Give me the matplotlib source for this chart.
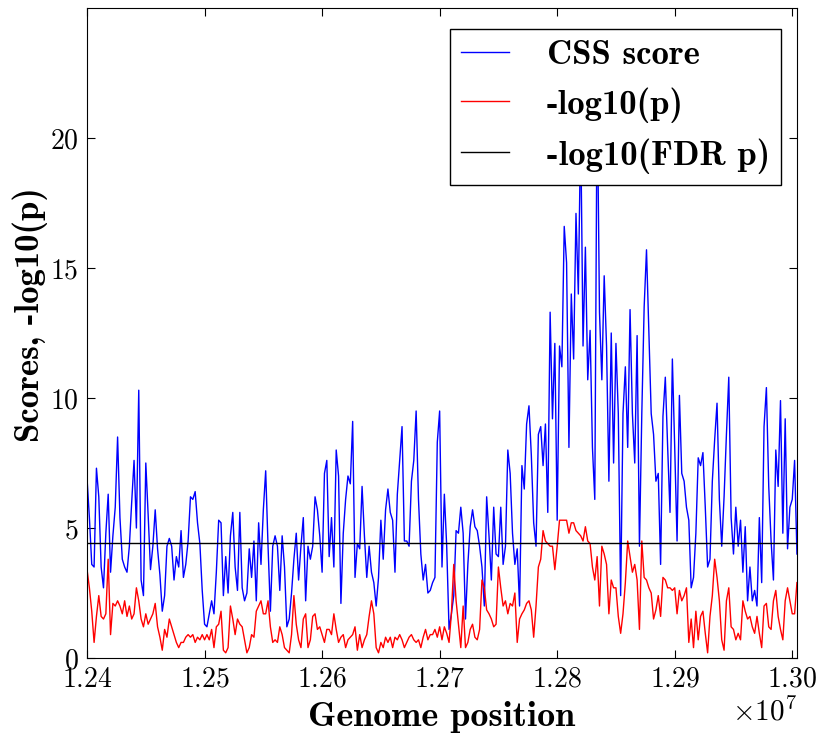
import numpy as np
import matplotlib
matplotlib.use("Agg")
import matplotlib.pyplot as plt

plt.rcParams['font.family'] = 'cmr10'
plt.rcParams['mathtext.fontset'] = 'cm'
plt.rcParams['axes.unicode_minus'] = False
plt.rcParams['axes.formatter.use_mathtext'] = True

# Window start positions (bp), 2 kb steps along the region
start, stop, step = 12400000, 13004000, 2000
positions = np.arange(start, stop + 1, step)

# CSS score per window
css_score = [
    6.9, 5.4, 3.6, 3.5, 7.3, 6.2, 3.5, 2.7, 4.8, 6.3,
    3.3, 4.7, 5.8, 8.5, 5.4, 3.8, 3.5, 3.3, 4.3, 6.0,
    7.6, 5.0, 10.3, 3.0, 2.4, 7.5, 5.5, 3.4, 4.3, 5.7,
    4.2, 3.2, 1.8, 2.4, 4.3, 4.6, 4.3, 3.0, 3.9, 3.5,
    4.9, 3.1, 3.6, 4.5, 6.2, 6.1, 6.4, 5.2, 4.4, 2.6,
    1.3,
    1.2, 1.7, 2.2, 1.7, 3.3, 5.3, 5.2, 2.4, 3.9, 2.5,
    4.7, 5.6, 3.5, 2.6, 5.6, 2.7, 2.2, 2.5, 4.2, 3.1,
    4.5, 2.2, 5.2, 3.6, 5.7, 7.2, 4.3, 1.8, 4.3, 4.7,
    4.3, 2.6, 4.7, 3.5, 1.2, 1.5, 2.5, 3.8, 4.8, 3.0,
    4.3, 5.4, 2.2, 4.3, 3.8, 4.3, 6.2, 5.7, 4.7, 3.3,
    7.1,
    7.6, 3.9, 5.4, 3.5, 8.0, 7.0, 2.1, 4.8, 6.1, 7.0,
    6.7, 9.1, 3.1, 4.4, 4.2, 6.6, 4.7, 3.1, 4.3, 3.3,
    2.9, 2.0, 3.1, 5.3, 3.8, 5.7, 6.5, 5.6, 5.3, 3.3,
    6.3, 7.6, 8.9, 4.5, 4.5, 4.3, 6.8, 7.6, 9.5, 6.1,
    4.0, 3.0, 3.6, 2.5, 2.6, 2.9, 3.1, 8.3, 9.5, 3.5,
    6.3,
    4.3, 1.1, 1.7, 2.4, 4.9, 4.8, 5.8, 4.8, 1.5, 3.6,
    5.05, 5.7, 5.05, 4.9, 4.3, 3.5, 2.0, 6.2, 4.7, 3.0,
    5.8, 4.0, 3.9, 5.8, 3.6, 4.3, 8.0, 7.1, 4.8, 3.6,
    4.2, 2.0, 7.4, 6.5, 9.0, 9.7, 7.8, 5.2, 4.3, 8.6,
    8.9, 7.4, 9.0, 5.6, 13.3, 9.2, 12.1, 5.3, 12.0, 11.2,
    16.6,
    15.2, 8.1, 14.0, 11.5, 17.1, 14.0, 20.5, 12.0, 15.8, 10.7,
    12.6, 8.1, 6.1, 22.0, 13.3, 10.7, 14.7, 12.0, 6.8, 12.5,
    7.5, 12.1, 9.4, 2.4, 9.4, 11.2, 8.1, 13.4, 9.4, 7.5,
    12.4, 4.3, 9.4, 13.5, 15.7, 12.6, 9.4, 8.6, 6.8, 7.1,
    3.6, 9.3, 10.8, 8.1, 5.6, 11.5, 8.1, 4.5, 10.1, 7.1,
    6.8,
    5.8, 5.3, 2.7, 3.1, 4.8, 7.7, 7.4, 7.9, 5.8, 3.5,
    3.8, 6.8, 8.4, 9.8, 6.1, 4.3, 6.2, 8.6, 10.8, 5.4,
    4.0, 5.8, 4.3, 5.3, 3.3, 5.05, 2.2, 3.5, 2.2, 2.6,
    2.0, 5.4, 2.9, 8.9, 10.4, 6.6, 4.5, 3.0, 8.0, 6.6,
    9.9, 4.8, 9.2, 4.2, 5.8, 6.1, 7.6, 4.0,
]

# -log10(p) per window
neg_log_p = [
    3.4, 2.7, 1.8, 0.6, 1.6, 2.4, 1.6, 1.5, 1.7, 3.8,
    0.9, 2.1, 2.0, 2.2, 2.0, 1.7, 2.2, 1.6, 2.0, 1.5,
    1.7, 2.7, 2.2, 1.5, 1.2, 1.7, 1.3, 1.5, 1.7, 2.1,
    1.2, 0.8, 0.3, 1.1, 0.8, 1.5, 1.2, 0.9, 0.6, 0.4,
    0.6, 0.6, 0.8, 0.9, 0.8, 0.9, 0.6, 0.8, 0.7, 0.9,
    0.7,
    0.9, 0.7, 1.1, 0.4, 1.2, 1.3, 1.8, 0.3, 0.2, 0.4,
    2.0, 1.5, 0.9, 1.5, 1.3, 1.2, 0.7, 0.2, 0.4, 0.9,
    0.8, 1.8, 2.0, 2.2, 1.7, 1.7, 2.2, 1.2, 0.6, 0.7,
    0.6, 1.2, 0.9, 0.4, 0.3, 0.2, 0.9, 2.4, 1.3, 0.7,
    0.4, 1.5, 1.7, 0.4, 0.7, 1.6, 1.7, 1.1, 1.2, 0.9,
    0.6,
    1.1, 1.1, 0.9, 1.7, 1.1, 0.6, 0.8, 0.9, 0.4, 0.7,
    0.8, 0.9, 1.2, 0.3, 0.9, 0.4, 0.7, 0.9, 1.6, 2.2,
    1.7, 0.4, 0.2, 0.6, 0.4, 0.8, 0.6, 0.8, 0.4, 0.8,
    0.7, 0.9, 0.7, 0.4, 0.6, 0.8, 0.9, 0.7, 0.6, 0.7,
    0.4, 0.8, 1.1, 0.7, 0.9, 0.9, 1.1, 0.8, 1.2, 0.7,
    1.2,
    0.95, 0.6, 1.7, 3.6, 2.2, 1.3, 0.4, 2.0, 0.4, 0.6,
    1.1, 1.3, 0.8, 0.7, 1.1, 3.0, 2.7, 1.85, 1.7, 1.5,
    1.2, 1.3, 3.5, 2.7, 2.0, 2.2, 1.7, 2.1, 2.0, 2.5,
    0.6, 1.5, 1.7, 1.85, 2.1, 2.2, 1.85, 0.8, 2.0, 3.5,
    3.8, 4.9, 4.5, 4.4, 4.3, 4.3, 3.4, 4.3, 5.3, 5.3,
    5.3,
    5.3, 4.8, 5.2, 5.2, 4.9, 4.8, 4.7, 4.5, 5.05, 4.5,
    4.4, 3.5, 3.0, 3.9, 2.0, 4.3, 4.0, 3.6, 1.7, 3.0,
    2.7, 2.7, 1.6, 0.95, 1.7, 2.9, 4.5, 3.9, 3.3, 3.6,
    3.0, 1.1, 4.5, 3.1, 3.0, 2.7, 2.5, 1.5, 1.85, 2.4,
    1.6, 3.1, 3.0, 2.7, 2.7, 2.6, 2.7, 1.7, 2.6, 2.2,
    2.4,
    2.7, 0.6, 1.5, 0.4, 1.8, 0.7, 1.6, 1.8, 0.95, 0.2,
    1.6, 2.4, 3.8, 3.1, 2.2, 0.7, 0.3, 2.2, 2.7, 1.2,
    1.1, 0.7, 0.95, 0.7, 2.2, 1.8, 1.5, 1.6, 1.2, 0.95,
    1.6, 0.95, 0.4, 2.0, 2.1, 1.2, 1.1, 2.2, 2.6, 1.6,
    1.1, 0.7, 2.2, 2.7, 2.2, 1.7, 1.7, 2.9,
]

fdr_threshold = 4.43

fig = plt.figure(figsize=(8.25, 7.33), dpi=100)
ax = fig.add_axes([0.1055, 0.1023, 0.8605, 0.8868])

ax.plot(positions, css_score, color='b', lw=1.0, label='CSS score')
ax.plot(positions, neg_log_p, color='r', lw=1.0, label='-log10(p)')
ax.axhline(fdr_threshold, color='k', lw=1.0, label='-log10(FDR p)')

ax.set_xlim(positions[0], positions[-1])
ax.set_ylim(0, 25)
ax.set_yticks([0, 5, 10, 15, 20])
ax.set_xticks(np.arange(12400000, 13000001, 100000))

ax.tick_params(direction='in', top=True, right=True, labelsize=20,
               length=6)
ax.tick_params(axis='x', pad=6)
ax.tick_params(axis='y', pad=6)
ax.xaxis.get_offset_text().set_fontsize(21)

ax.set_xlabel('Genome position', family='cmb10', size=26, labelpad=6)
ax.set_ylabel('Scores, -log10(p)', family='cmb10', size=25)
ax.yaxis.set_label_coords(-0.055, 0.528)

leg = ax.legend(loc='upper right', bbox_to_anchor=(0.9775, 0.9677),
                borderaxespad=0, prop={'family': 'cmb10', 'size': 25},
                fancybox=False, framealpha=1, edgecolor='k',
                handlelength=1.38, handletextpad=1.1, labelspacing=0.45,
                borderpad=0.32)
leg.get_frame().set_linewidth(1.0)

fig.savefig('out.png', dpi=100, facecolor='white')
